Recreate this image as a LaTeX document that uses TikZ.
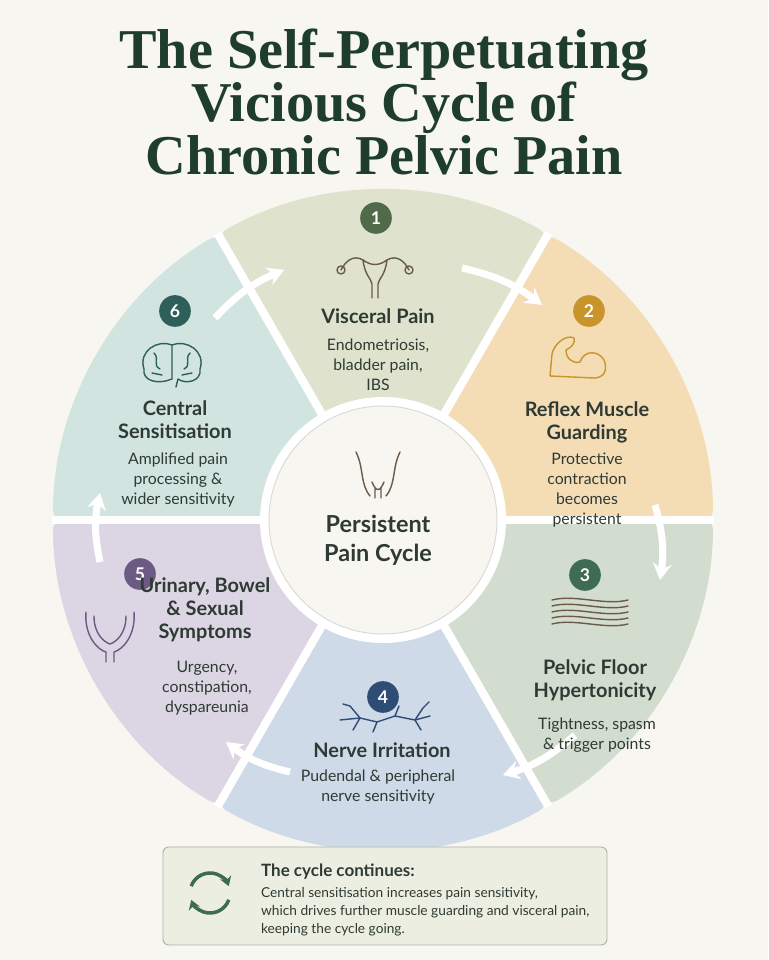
\documentclass[tikz,border=0pt]{standalone}
\usepackage{fontspec}
\setmainfont{Lato}
\newfontfamily\titlefont{Liberation Serif}
\usetikzlibrary{arrows.meta}
\definecolor{bgc}{HTML}{F8F6F0}
\definecolor{titlec}{HTML}{1F3D2E}
\definecolor{txtc}{HTML}{2E3A33}
\definecolor{secA}{HTML}{DFE3CE}
\definecolor{secB}{HTML}{F4DDB5}
\definecolor{secC}{HTML}{D3DDCF}
\definecolor{secD}{HTML}{CEDAE8}
\definecolor{secE}{HTML}{DCD5E3}
\definecolor{secF}{HTML}{D2E4DF}
\definecolor{badA}{HTML}{4F6B4A}
\definecolor{badB}{HTML}{C9952A}
\definecolor{badC}{HTML}{3F6B52}
\definecolor{badD}{HTML}{2F4D74}
\definecolor{badE}{HTML}{6B5A82}
\definecolor{badF}{HTML}{2F5F5A}
\definecolor{iconc}{HTML}{6B5A48}
\tikzset{
  head/.style={font=\fontsize{17}{19.5}\selectfont\bfseries, text=txtc, align=center},
  body/.style={font=\fontsize{13.5}{17}\selectfont, text=txtc, align=center},
  badge/.style={circle, fill=#1, text=white, minimum size=27, inner sep=0pt, font=\fontsize{15}{15}\selectfont\bfseries},
  flow/.style={white, line width=6, -{Stealth[length=14,width=16]}},
  icon/.style={iconc, line width=1.2, line cap=round, line join=round},
}
\begin{document}
\begin{tikzpicture}[x=0.3mm,y=0.3mm]
\useasboundingbox[fill=bgc] (0,0) rectangle (768,960);
% title
\node[font=\titlefont\fontsize{48}{45}\selectfont\bfseries, text=titlec, align=center] (title) at (384,858)
  {The Self-Perpetuating\\Vicious Cycle of\\Chronic Pelvic Pain};
% sectors
\begin{scope}[shift={(383,440)}]
  \foreach \a/\c in {60/secA,0/secB,-60/secC,-120/secD,180/secE,120/secF}
    \fill[\c, rounded corners=8] (0,0) -- (\a:330) arc (\a:\a+60:330) -- cycle;
  \foreach \a in {0,60,...,300}
    \draw[white, line width=7] (0,0) -- (\a:331);
  \fill[white] (0,0) circle (123);
  \filldraw[fill=bgc, draw=black!15, line width=0.8] (0,0) circle (114);
\end{scope}
% flow arrows
\coordinate (a1) at (215,642); \coordinate (b1) at (284,690);
\coordinate (a2) at (462,692); \coordinate (b2) at (542,655);
\coordinate (a3) at (655,455); \coordinate (b3) at (660,380);
\coordinate (a4) at (575,225); \coordinate (b4) at (503,185);
\coordinate (a5) at (290,188); \coordinate (b5) at (226,218);
\coordinate (a6) at (100,398); \coordinate (b6) at (100,467);
\foreach \i in {1,...,6}
  \draw[flow] (a\i) to[bend left=12] (b\i);
% stage 1
\node[badge=badA] (n1) at (376,742) {1};
\begin{scope}[icon, shift={(375,688)}]
  \draw (-12,12) .. controls (-10,-4) and (-4,-6) .. (-3,-12) -- (-3,-26) (3,-26) -- (3,-12)
        .. controls (4,-6) and (10,-4) .. (12,12) .. controls (4,6) and (-4,6) .. (-12,12);
  \draw (-12,12) .. controls (-22,18) and (-30,10) .. (-34,2) (-34,2) circle (4);
  \draw (12,12) .. controls (22,18) and (30,10) .. (34,2) (34,2) circle (4);
\end{scope}
\node[head] (h1) at (378,644) {Visceral Pain};
\node[body] (t1) at (378,595) {Endometriosis,\\bladder pain,\\IBS};
% stage 2
\node[badge=badB] (n2) at (589,649) {2};
\begin{scope}[icon, draw=badB, shift={(580,602)}]
  \draw (-30,-18) -- (-28,4) .. controls (-26,14) and (-14,24) .. (-6,20) .. controls (-4,14) and (-10,10) .. (-14,8)
        .. controls (-14,0) and (-8,-6) .. (0,-4) .. controls (4,8) and (18,8) .. (24,-2)
        .. controls (28,-12) and (24,-20) .. (14,-20) -- (-30,-18);
\end{scope}
\node[head] (h2) at (587,538) {Reflex Muscle\\Guarding};
\node[body] (t2) at (587,470) {Protective\\contraction\\becomes\\persistent};
% stage 3
\node[badge=badC] (n3) at (585,385) {3};
\begin{scope}[icon, shift={(590,348)}]
  \foreach \y in {-12,-6,0,6,12}
    \draw (-38,\y) .. controls (-15,\y+6) and (15,\y-6) .. (38,\y);
\end{scope}
\node[head] (h3) at (595,280) {Pelvic Floor\\Hypertonicity};
\node[body] (t3) at (597,225) {Tightness, spasm\\\& trigger points};
% stage 4
\node[badge=badD] (n4) at (383,263) {4};
\begin{scope}[icon, draw=badD, shift={(385,242)}]
  \draw (-45,-2) -- (-25,0) -- (-8,-4) -- (10,2) -- (30,-2) -- (45,2);
  \draw (-25,0) -- (-35,12) (-25,0) -- (-32,-12) (-8,-4) -- (-12,-14) (10,2) -- (14,12)
        (30,-2) -- (36,-12) (30,-2) -- (38,10) (-35,12) -- (-42,14) (38,10) -- (44,16);
\end{scope}
\node[head] (h4) at (382,210) {Nerve Irritation};
\node[body] (t4) at (378,173) {Pudendal \& peripheral\\nerve sensitivity};
% stage 5
\node[badge=badE] (n5) at (140,386) {5};
\begin{scope}[icon, draw=badE, shift={(110,330)}]
  \draw (-24,18) .. controls (-26,-6) and (-12,-20) .. (-4,-22) -- (-4,-32) (4,-32) -- (4,-22)
        .. controls (12,-20) and (26,-6) .. (24,18);
  \draw (-16,14) .. controls (-16,-4) and (-6,-12) .. (0,-14) .. controls (6,-12) and (16,-4) .. (16,14);
\end{scope}
\node[head] (h5) at (205,350) {Urinary, Bowel\\\& Sexual\\Symptoms};
\node[body] (t5) at (207,272) {Urgency,\\constipation,\\dyspareunia};
% stage 6
\node[badge=badF] (n6) at (175,649) {6};
\begin{scope}[icon, draw=badF, shift={(172,595)}]
  \draw (-28,-4) .. controls (-34,14) and (-14,26) .. (0,20) .. controls (14,26) and (34,14) .. (28,-4)
        .. controls (30,-16) and (14,-20) .. (6,-14) -- (4,-22) (-28,-4) .. controls (-30,-16) and (-14,-20) .. (0,-14);
  \draw (0,20) -- (0,-14) (-18,12) .. controls (-12,6) and (-20,0) .. (-12,-4)
        (18,12) .. controls (12,6) and (20,0) .. (12,-4) (-20,-8) -- (-10,-10) (10,-10) -- (20,-8);
\end{scope}
\node[head] (h6) at (175,540) {Central\\Sensitisation};
\node[body] (t6) at (178,480) {Amplified pain\\processing \&\\wider sensitivity};
% centre
\begin{scope}[icon, shift={(378,482)}]
  \draw (-22,26) .. controls (-14,10) and (-18,-6) .. (-8,-18) (22,26) .. controls (14,10) and (18,-6) .. (8,-18);
  \draw (-6,-4) .. controls (-2,-14) and (2,-14) .. (6,-4) (-3,-10) -- (-3,-20) (3,-10) -- (3,-20);
\end{scope}
\node[head, font=\fontsize{20}{25}\selectfont\bfseries] (core) at (378,420) {Persistent\\Pain Cycle};
% bottom note
\draw[fill=secA!60, draw=badA!50, rounded corners=5, line width=0.8] (163,15) rectangle (607,113);
\begin{scope}[shift={(210,67)}]
  \draw[badC, line width=3, -{Stealth[length=8,width=10]}] (160:20) arc (160:20:20);
  \draw[badC, line width=3, -{Stealth[length=8,width=10]}] (-20:20) arc (-20:-160:20);
\end{scope}
\node[anchor=west, font=\fontsize{14.5}{16}\selectfont\bfseries, text=txtc] (cont) at (257,88) {The cycle continues:};
\node[anchor=north west, align=left, font=\fontsize{11.7}{15.5}\selectfont, text=txtc] (note) at (257,77)
  {Central sensitisation increases pain sensitivity,\\which drives further muscle guarding and visceral pain,\\keeping the cycle going.};
\end{tikzpicture}
\end{document}
